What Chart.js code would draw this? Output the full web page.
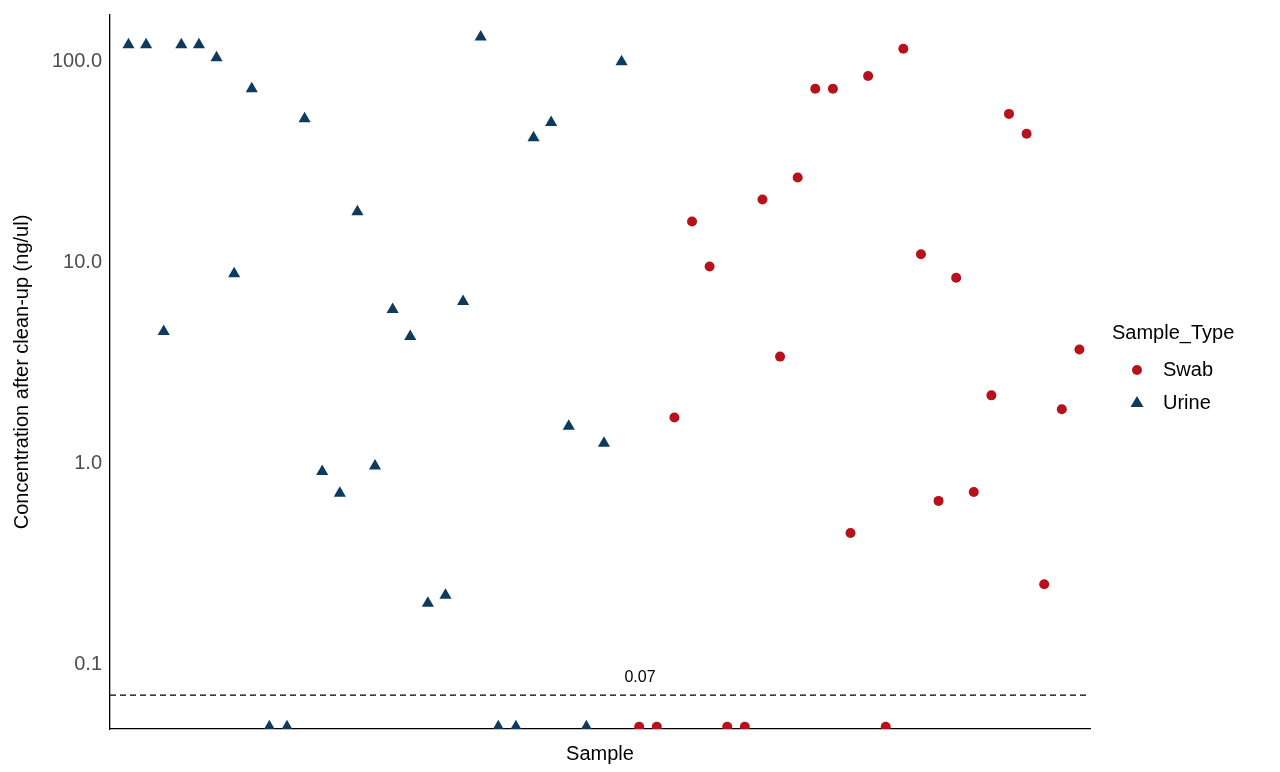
<!DOCTYPE html>
<html><head><meta charset="utf-8">
<script src="https://cdn.jsdelivr.net/npm/chart.js@4/dist/chart.umd.min.js"></script>
<style>html,body{margin:0;padding:0;background:#fff}#w{width:1280px;height:772px}</style>
</head><body><div id="w"><canvas id="c"></canvas></div>
<script>
const urineIdx = [1,2,3,4,5,6,7,8,9,10,11,12,13,14,15,16,17,18,19,20,21,22,23,24,25,26,27,28,29];
const urineVals = [121.5,121.5,4.54,121.5,121.5,104.7,8.8,73.4,0.0487,0.0487,52,0.91,0.71,17.9,0.97,5.84,4.28,0.201,0.22,6.4,133,0.0487,0.0487,41.9,49.8,1.53,0.0487,1.26,100];
const swabIdx = [30,31,32,33,34,35,36,37,38,39,40,41,42,43,44,45,46,47,48,49,50,51,52,53,54,55];
const swabVals = [0.0487,0.0487,1.69,16,9.55,0.0487,0.0487,20.6,3.4,26.5,73.4,73.4,0.45,85,0.0487,116,11,0.65,8.4,0.72,2.18,55,43.8,0.25,1.86,3.69];
const yTicks = [0.1,1,10,100];
const threshold = 0.07;
const RED='#B5121B', NAVY='#0E3A5E';

const extra = {
  id:'extra',
  afterDraw(ch){
    const {ctx,chartArea:a,scales:{x,y}}=ch;
    ctx.save();
    const yy=y.getPixelForValue(threshold);
    ctx.setLineDash([6,4]);ctx.strokeStyle='#000';ctx.lineWidth=1.3;
    ctx.beginPath();ctx.moveTo(a.left,yy);ctx.lineTo(a.right,yy);ctx.stroke();
    ctx.setLineDash([]);
    ctx.fillStyle='#000';ctx.font='16px "Liberation Sans", Arial';ctx.textAlign='center';ctx.textBaseline='bottom';
    ctx.fillText(String(threshold),640,yy-10);
    ctx.textAlign='left';ctx.textBaseline='middle';ctx.font='20px "Liberation Sans", Arial';
    ctx.fillText('Sample_Type',1112,333);
    ctx.fillText('Swab',1163,370);ctx.fillText('Urine',1163,403);
    ctx.fillStyle=RED;ctx.beginPath();ctx.arc(1137,370,5,0,Math.PI*2);ctx.fill();
    ctx.fillStyle=NAVY;ctx.beginPath();ctx.moveTo(1137,396);ctx.lineTo(1143.5,407);ctx.lineTo(1130.5,407);ctx.closePath();ctx.fill();
    ctx.restore();
  }
};

new Chart(document.getElementById('c'),{
  type:'scatter',
  data:{datasets:[
    {label:'Urine',data:urineIdx.map((v,i)=>({x:v,y:urineVals[i]})),pointStyle:'triangle',pointRadius:7,backgroundColor:NAVY,borderColor:NAVY,borderWidth:0},
    {label:'Swab',data:swabIdx.map((v,i)=>({x:v,y:swabVals[i]})),pointStyle:'circle',pointRadius:5,backgroundColor:RED,borderColor:RED,borderWidth:0}
  ]},
  options:{
    responsive:true,maintainAspectRatio:false,animation:false,
    layout:{padding:{top:0,right:190,left:0,bottom:0}},
    plugins:{legend:{display:false},tooltip:{enabled:false}},
    scales:{
      x:{type:'linear',min:-0.05,max:55.6,grid:{display:false},border:{color:'#000',width:1.3},
        ticks:{display:false},
        title:{display:true,text:'Sample',color:'#000',font:{size:20,family:'"Liberation Sans", Arial'},padding:{top:4,bottom:6}},
        afterFit(s){s.height=43;}},
      y:{type:'logarithmic',min:0.0475,max:171,
        grid:{display:false,drawTicks:true,tickLength:5,tickColor:'#333'},
        border:{color:'#000',width:1.3},
        afterBuildTicks(s){s.ticks=yTicks.map(v=>({value:v}));},
        ticks:{color:'#4d4d4d',font:{size:20,family:'"Liberation Sans", Arial'},callback:v=>Number(v).toFixed(1)},
        title:{display:true,text:'Concentration after clean-up (ng/ul)',color:'#000',font:{size:20,family:'"Liberation Sans", Arial'},padding:{top:10,bottom:0}},
        afterFit(s){s.width=110;}}
    }
  },
  plugins:[extra]
});
</script></body></html>
